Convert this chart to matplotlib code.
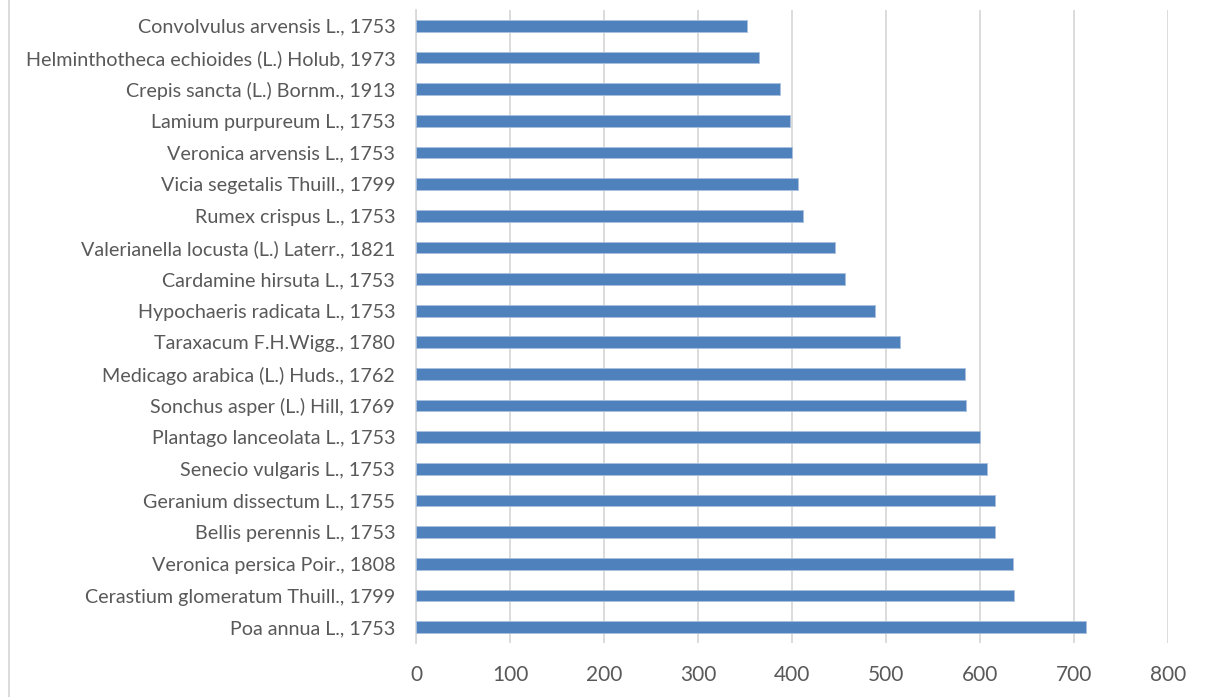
import matplotlib
matplotlib.use("Agg")
import matplotlib.pyplot as plt
from matplotlib.lines import Line2D

species = [
    "Poa annua L., 1753",
    "Cerastium glomeratum Thuill., 1799",
    "Veronica persica Poir., 1808",
    "Bellis perennis L., 1753",
    "Geranium dissectum L., 1755",
    "Senecio vulgaris L., 1753",
    "Plantago lanceolata L., 1753",
    "Sonchus asper (L.) Hill, 1769",
    "Medicago arabica (L.) Huds., 1762",
    "Taraxacum F.H.Wigg., 1780",
    "Hypochaeris radicata L., 1753",
    "Cardamine hirsuta L., 1753",
    "Valerianella locusta (L.) Laterr., 1821",
    "Rumex crispus L., 1753",
    "Vicia segetalis Thuill., 1799",
    "Veronica arvensis L., 1753",
    "Lamium purpureum L., 1753",
    "Crepis sancta (L.) Bornm., 1913",
    "Helminthotheca echioides (L.) Holub, 1973",
    "Convolvulus arvensis L., 1753",
]
values = [713, 636, 635, 616, 616, 607, 600, 585, 584, 515,
          488, 456, 446, 412, 406, 400, 398, 387, 365, 352]
xticks = [0, 100, 200, 300, 400, 500, 600, 700, 800]

plt.rcParams['font.family'] = ['Lato', 'DejaVu Sans']
text_color = '#595959'
grid_color = '#D9D9D9'

fig = plt.figure(figsize=(12.07, 6.97), dpi=100)
ax = fig.add_axes([416/1207, 54/697, 752/1207, 633/697])

ypos = list(range(len(species)))
ax.barh(ypos, values, height=0.37, color='#4F81BD', edgecolor='#A9C0DE',
        linewidth=0.6, zorder=3)
ax.set_yticks(ypos)
ax.set_yticklabels(species, fontsize=14.2, color=text_color)
ax.set_ylim(-0.5, len(species) - 0.5)
ax.set_xlim(0, 800)
ax.set_xticks(xticks)
ax.set_xticklabels([str(v) for v in xticks], fontsize=15, color=text_color)
ax.tick_params(axis='y', length=0, pad=15)
ax.tick_params(axis='x', length=0, pad=16)
ax.grid(axis='x', color=grid_color, linewidth=1.3, zorder=0)
for s in ['top', 'right', 'bottom']:
    ax.spines[s].set_visible(False)
ax.spines['left'].set_color(grid_color)
ax.spines['left'].set_linewidth(1.3)

fig.add_artist(Line2D([9/1207, 9/1207], [0, 1], transform=fig.transFigure,
                      color=grid_color, linewidth=1.3))

fig.savefig('out.png', dpi=100, facecolor='white')
